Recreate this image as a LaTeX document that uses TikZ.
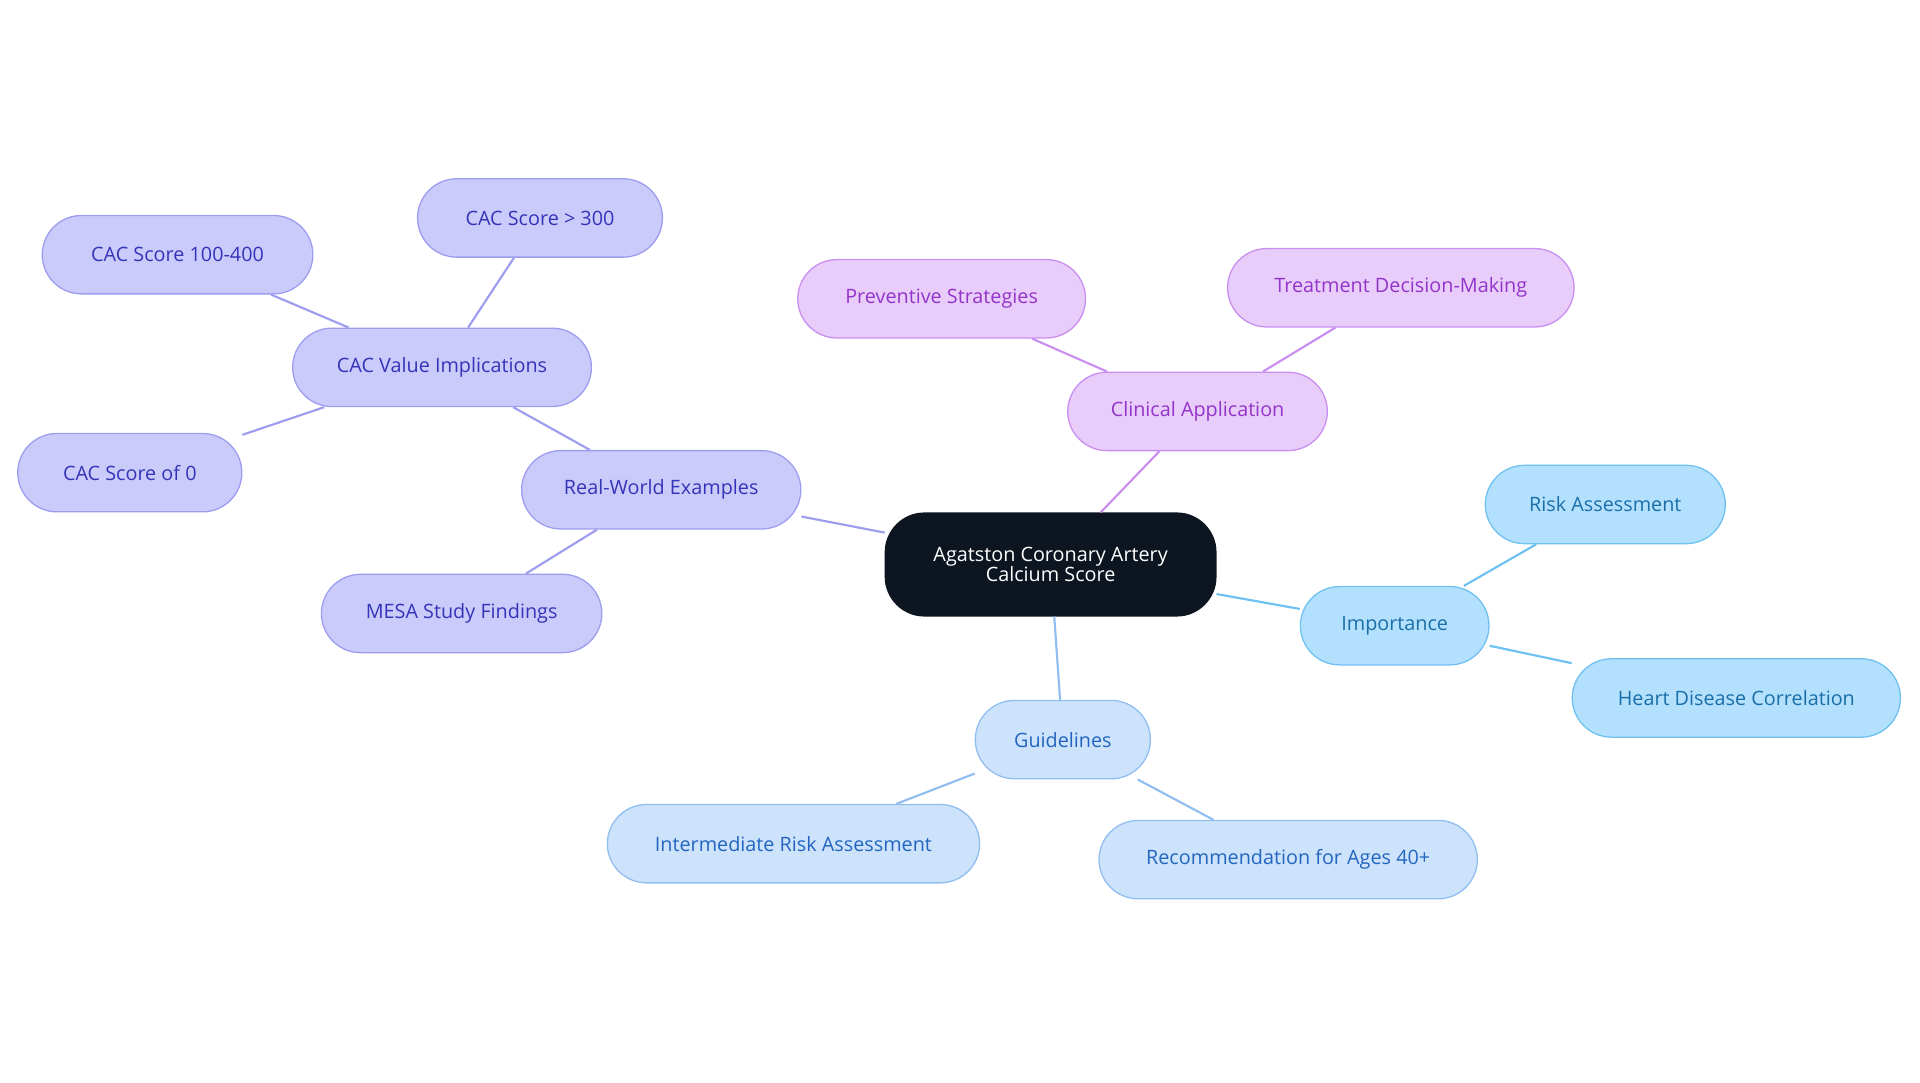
\documentclass[tikz,border=0pt]{standalone}
\usepackage{fontspec}
\setmainfont{Open Sans}
\definecolor{cfill}{HTML}{0D1520}
\definecolor{afill}{HTML}{B3E0FD}\definecolor{aline}{HTML}{6EC1F0}\definecolor{atext}{HTML}{1A6FA8}
\definecolor{bfill}{HTML}{CDE2FB}\definecolor{bline}{HTML}{90BEF0}\definecolor{btext}{HTML}{2266C0}
\definecolor{pfill}{HTML}{E8CDFB}\definecolor{pline}{HTML}{C98EF0}\definecolor{ptext}{HTML}{9334C9}
\definecolor{ifill}{HTML}{CBCBFB}\definecolor{iline}{HTML}{9D9DF0}\definecolor{itext}{HTML}{3434B8}
\begin{document}
\begin{tikzpicture}[x=0.05cm,y=-0.05cm,
 box/.style={rounded corners=1.6cm,minimum height=3.2cm,inner sep=0pt,line width=1.5pt,font=\fontsize{23}{28}\selectfont,align=center},
 ba/.style={box,fill=afill,draw=aline,text=atext},
 bb/.style={box,fill=bfill,draw=bline,text=btext},
 bp/.style={box,fill=pfill,draw=pline,text=ptext},
 bi/.style={box,fill=ifill,draw=iline,text=itext},
 ea/.style={draw=aline,line width=2.5pt},
 eb/.style={draw=bline,line width=2.5pt},
 ep/.style={draw=pline,line width=2.5pt},
 ei/.style={draw=iline,line width=2.5pt}]
\useasboundingbox (0,0) rectangle (1568,884);
\node[box,fill=cfill,draw=cfill,text=white,minimum width=13.5cm,minimum height=4.2cm] (c) at (858,461) {Agatston Coronary Artery\\[-4pt]Calcium Score};
\node[ba,minimum width=7.7cm] (imp) at (1139,511) {Importance};
\node[ba,minimum width=9.8cm] (ra) at (1311,412) {Risk Assessment};
\node[ba,minimum width=13.4cm] (hd) at (1418,570) {Heart Disease Correlation};
\node[bb,minimum width=7.15cm] (g) at (868,604) {Guidelines};
\node[bb,minimum width=15.2cm] (ira) at (648,689) {Intermediate Risk Assessment};
\node[bb,minimum width=15.45cm] (rec) at (1052,702) {Recommendation for Ages 40+};
\node[bp,minimum width=10.6cm] (ca) at (978,336) {Clinical Application};
\node[bp,minimum width=11.75cm] (ps) at (769,244) {Preventive Strategies};
\node[bp,minimum width=14.15cm] (td) at (1144,235) {Treatment Decision-Making};
\node[bi,minimum width=11.4cm] (rw) at (540,400) {Real-World Examples};
\node[bi,minimum width=11.45cm] (me) at (377,501) {MESA Study Findings};
\node[bi,minimum width=12.2cm] (cv) at (361,300) {CAC Value Implications};
\node[bi,minimum width=11.05cm] (c1) at (145,208) {CAC Score 100-400};
\node[bi,minimum width=10cm] (c3) at (441,178) {CAC Score > 300};
\node[bi,minimum width=9.15cm] (c0) at (106,386) {CAC Score of 0};
\begin{scope}[on background layer/.try]
\end{scope}
\begin{pgfinterruptboundingbox}\end{pgfinterruptboundingbox}
\path[ea] (c) -- (imp); \path[ea] (imp) -- (ra); \path[ea] (imp) -- (hd);
\path[eb] (c) -- (g); \path[eb] (g) -- (ira); \path[eb] (g) -- (rec);
\path[ep] (c) -- (ca); \path[ep] (ca) -- (ps); \path[ep] (ca) -- (td);
\path[ei] (c) -- (rw); \path[ei] (rw) -- (me); \path[ei] (rw) -- (cv);
\path[ei] (cv) -- (c1); \path[ei] (cv) -- (c3); \path[ei] (cv) -- (c0);
\end{tikzpicture}
\end{document}
